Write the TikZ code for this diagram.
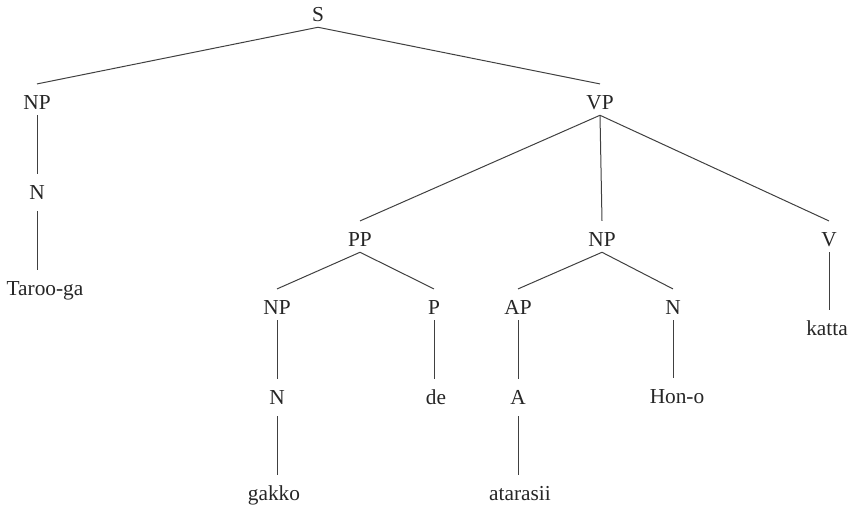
\documentclass[tikz,border=0pt]{standalone}
\usepackage{fontspec}
\setmainfont{Liberation Serif}
\usetikzlibrary{calc}
\tikzset{cat/.style={anchor=base,inner sep=0pt,text height=18.6pt,text depth=4.5pt,
    font=\fontsize{16}{18}\selectfont,text=black!85},
  branch/.style={draw=black!75,line width=0.75pt},
  leaf/.style={branch,shorten <=4.5pt}}

\begin{document}
\begin{tikzpicture}[x=0.75pt,y=-0.75pt]
  \useasboundingbox (0,0) rectangle (850,507);
  \node[cat] (S) at (318,21) {S};
  \node[cat] (NPa) at (37,109) {NP};
  \node[cat] (VP) at (600,109) {VP};
  \node[cat] (Na) at (37,199) {N};
  \node[cat] (taroo) at (45,295) {Taroo-ga};
  \node[cat] (PP) at (360,246) {PP};
  \node[cat] (NPb) at (602,246) {NP};
  \node[cat] (V) at (829,246) {V};
  \node[cat] (NPc) at (277,314) {NP};
  \node[cat] (P) at (434,314) {P};
  \node[cat] (AP) at (518,314) {AP};
  \node[cat] (Nb) at (673,314) {N};
  \node[cat] (katta) at (827,335) {katta};
  \node[cat] (Nc) at (277,404) {N};
  \node[cat] (de) at (436,404) {de};
  \node[cat] (A) at (518,404) {A};
  \node[cat] (hon) at (677,403) {Hon-o};
  \node[cat] (gakko) at (274,500) {gakko};
  \node[cat] (atarasii) at (520,500) {atarasii};

  \draw[branch] (S.south) -- (NPa.north);
  \draw[branch] (S.south) -- (VP.south |- NPa.north);
  \draw[branch] (NPa.south) -- (Na.north);
  \draw[leaf] (Na.south) -- (Na.south |- taroo.north);
  \draw[branch] (VP.south) -- (PP.north);
  \draw[branch] (VP.south) -- (NPb.north);
  \draw[branch] (VP.south) -- (V.north);
  \draw[branch] (V.south) -- (V.south |- katta.north);
  \draw[branch] (PP.south) -- (NPc.north);
  \draw[branch] (PP.south) -- (P.north);
  \draw[branch] (NPb.south) -- (AP.north);
  \draw[branch] (NPb.south) -- (Nb.north);
  \draw[branch] (NPc.south) -- (Nc.north);
  \draw[branch] (P.south) -- (P.south |- de.north);
  \draw[branch] (AP.south) -- (A.north);
  \draw[branch] (Nb.south) -- (Nb.south |- hon.north);
  \draw[leaf] (Nc.south) -- (Nc.south |- gakko.north);
  \draw[leaf] (A.south) -- (A.south |- atarasii.north);
\end{tikzpicture}
\end{document}
